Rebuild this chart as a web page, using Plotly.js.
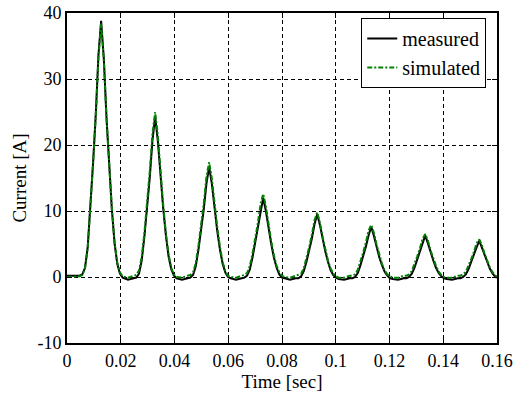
<!DOCTYPE html>
<html>
<head>
<meta charset="utf-8">
<script src="https://cdn.plot.ly/plotly-3.0.1.min.js"></script>
<style>html,body{margin:0;padding:0;background:#fff;}#chart{width:518px;height:400px;}</style>
</head>
<body>
<div id="chart"></div>
<script>
// Time samples [sec]
var time = [
  0, 0.002, 0.004,
  0.0047,0.0057,0.0067,0.0077,0.0087,0.0097,0.0107,0.0117,0.0127,0.0137,0.0147,0.0157,0.0167,0.0177,0.0187,0.0197,0.0207,0.0227,
  0.0248,0.0258,0.0268,0.0278,0.0288,0.0298,0.0308,0.0318,0.0328,0.0338,0.0348,0.0358,0.0368,0.0378,0.0388,0.0398,0.0408,0.0428,
  0.0449,0.0459,0.0469,0.0479,0.0489,0.0499,0.0509,0.0519,0.0529,0.0539,0.0549,0.0559,0.0569,0.0579,0.0589,0.0599,0.0609,0.0629,
  0.0650,0.0660,0.0670,0.0680,0.0690,0.0700,0.0710,0.0720,0.0730,0.0740,0.0750,0.0760,0.0770,0.0780,0.0790,0.0800,0.0810,0.0830,
  0.0851,0.0861,0.0871,0.0881,0.0891,0.0901,0.0911,0.0921,0.0931,0.0941,0.0951,0.0961,0.0971,0.0981,0.0991,0.1001,0.1011,0.1031,
  0.1052,0.1062,0.1072,0.1082,0.1092,0.1102,0.1112,0.1122,0.1132,0.1142,0.1152,0.1162,0.1172,0.1182,0.1192,0.1202,0.1212,0.1232,
  0.1253,0.1263,0.1273,0.1283,0.1293,0.1303,0.1313,0.1323,0.1333,0.1343,0.1353,0.1363,0.1373,0.1383,0.1393,0.1403,0.1413,0.1433,
  0.1454,0.1464,0.1474,0.1484,0.1494,0.1504,0.1514,0.1524,0.1534,0.1544,0.1554,0.1564,0.1574,0.1584,0.1594,0.1600
];
// Measured current [A]
var measured = [
  0.2, 0.2, 0.2,
  0.2, 0.4, 1.4, 4.5, 10.3, 17.3, 24.6, 33.6, 38.8, 33.1, 24.1, 16.8, 10.2, 5.1, 2.0, 0.5, -0.1, -0.4,
  -0.2, -0.1, 0.5, 2.5, 6.1, 10.5, 15.1, 20.7, 24.3, 20.6, 15.0, 10.4, 6.3, 3.1, 1.2, 0.2, -0.2, -0.4,
  -0.2, -0.1, 0.3, 1.6, 4.1, 7.1, 10.3, 14.2, 16.7, 14.1, 10.2, 7.0, 4.2, 2.0, 0.7, 0.0, -0.2, -0.4,
  -0.2, -0.1, 0.2, 1.1, 2.9, 5.1, 7.4, 10.1, 12.0, 10.0, 7.3, 5.0, 2.9, 1.4, 0.4, -0.1, -0.2, -0.4,
  -0.2, -0.2, 0.1, 0.9, 2.3, 4.0, 5.8, 8.0, 9.5, 7.9, 5.7, 3.9, 2.3, 1.0, 0.3, -0.1, -0.3, -0.4,
  -0.2, -0.2, 0.0, 0.6, 1.8, 3.1, 4.6, 6.3, 7.6, 6.2, 4.5, 3.0, 1.8, 0.8, 0.2, -0.2, -0.3, -0.4,
  -0.2, -0.2, 0.0, 0.5, 1.4, 2.6, 3.8, 5.2, 6.3, 5.1, 3.7, 2.5, 1.4, 0.6, 0.1, -0.2, -0.3, -0.4,
  -0.2, -0.2, 0.0, 0.4, 1.2, 2.2, 3.3, 4.5, 5.5, 4.4, 3.2, 2.1, 1.2, 0.5, 0.0, -0.1
];
// Simulated current [A]
var simulated = [
  0.0, 0.0, 0.0,
  0.1, 0.3, 1.3, 4.4, 10.2, 17.1, 24.4, 33.2, 38.4, 32.9, 24.1, 16.8, 10.3, 5.3, 2.2, 0.7, 0.1, -0.1,
  0.2, 0.3, 1.0, 3.0, 6.7, 11.2, 16.0, 21.7, 25.0, 21.4, 15.6, 10.9, 6.6, 3.4, 1.4, 0.4, 0.0, -0.1,
  0.2, 0.3, 0.7, 2.1, 4.7, 7.9, 11.2, 15.2, 17.4, 14.9, 10.9, 7.6, 4.6, 2.3, 0.9, 0.2, 0.0, -0.1,
  0.2, 0.3, 0.6, 1.6, 3.5, 5.7, 8.1, 11.0, 12.6, 10.7, 7.8, 5.4, 3.3, 1.7, 0.7, 0.2, 0.0, -0.1,
  0.2, 0.3, 0.5, 1.3, 2.8, 4.5, 6.4, 8.6, 9.8, 8.3, 6.1, 4.2, 2.5, 1.3, 0.5, 0.1, -0.1, -0.1,
  0.2, 0.2, 0.4, 1.1, 2.3, 3.7, 5.2, 7.0, 7.9, 6.7, 4.9, 3.4, 2.0, 1.0, 0.4, 0.1, -0.1, -0.1,
  0.2, 0.2, 0.4, 0.9, 1.9, 3.1, 4.3, 5.8, 6.5, 5.5, 4.0, 2.8, 1.7, 0.8, 0.3, 0.0, -0.1, -0.1,
  0.2, 0.2, 0.4, 0.8, 1.7, 2.7, 3.8, 5.1, 5.7, 4.8, 3.5, 2.4, 1.4, 0.7, 0.2, 0.1
];
var xTicks = [0, 0.02, 0.04, 0.06, 0.08, 0.1, 0.12, 0.14, 0.16];
var xTickLabels = ['0', '0.02', '0.04', '0.06', '0.08', '0.1', '0.12', '0.14', '0.16'];
var yTicks = [-10, 0, 10, 20, 30, 40];
var yTickLabels = ['-10', '0', '10', '20', '30', '40'];

var FONT = 'Liberation Serif';

var traces = [
  {x: time, y: measured, name: 'measured', type: 'scatter', mode: 'lines',
   line: {color: '#000000', width: 2}},
  {x: time, y: simulated, name: 'simulated', type: 'scatter', mode: 'lines',
   line: {color: '#008000', width: 2, dash: '5px,2px,2px,2px'}}
];

var axisCommon = {
  showline: true, linecolor: '#000', linewidth: 2, mirror: 'ticks',
  ticks: 'inside', ticklen: 5, tickwidth: 1, tickcolor: '#000',
  showgrid: true, gridcolor: '#000', gridwidth: 1, griddash: '4px,3px',
  zeroline: false, tickfont: {family: FONT, size: 18, color: '#000'}
};

var layout = {
  width: 518, height: 400,
  margin: {l: 67, r: 21, t: 13, b: 57},
  paper_bgcolor: '#fff', plot_bgcolor: '#fff',
  font: {family: FONT, size: 18, color: '#000'},
  showlegend: true,
  legend: {x: 0.975, xanchor: 'right', y: 0.985, yanchor: 'top',
           bgcolor: '#fff', bordercolor: '#000', borderwidth: 1,
           font: {family: FONT, size: 20, color: '#000'}, tracegroupgap: 0},
  xaxis: Object.assign({}, axisCommon, {
    range: [0, 0.16], tickmode: 'array', tickvals: xTicks, ticktext: xTickLabels,
    title: {text: 'Time [sec]', font: {family: FONT, size: 19, color: '#000'}, standoff: 4}
  }),
  yaxis: Object.assign({}, axisCommon, {
    range: [-10, 40], tickmode: 'array', tickvals: yTicks, ticktext: yTickLabels,
    title: {text: 'Current [A]', font: {family: FONT, size: 19, color: '#000'}, standoff: 6}
  })
};

Plotly.newPlot('chart', traces, layout, {staticPlot: true, displayModeBar: false});
</script>
</body>
</html>
